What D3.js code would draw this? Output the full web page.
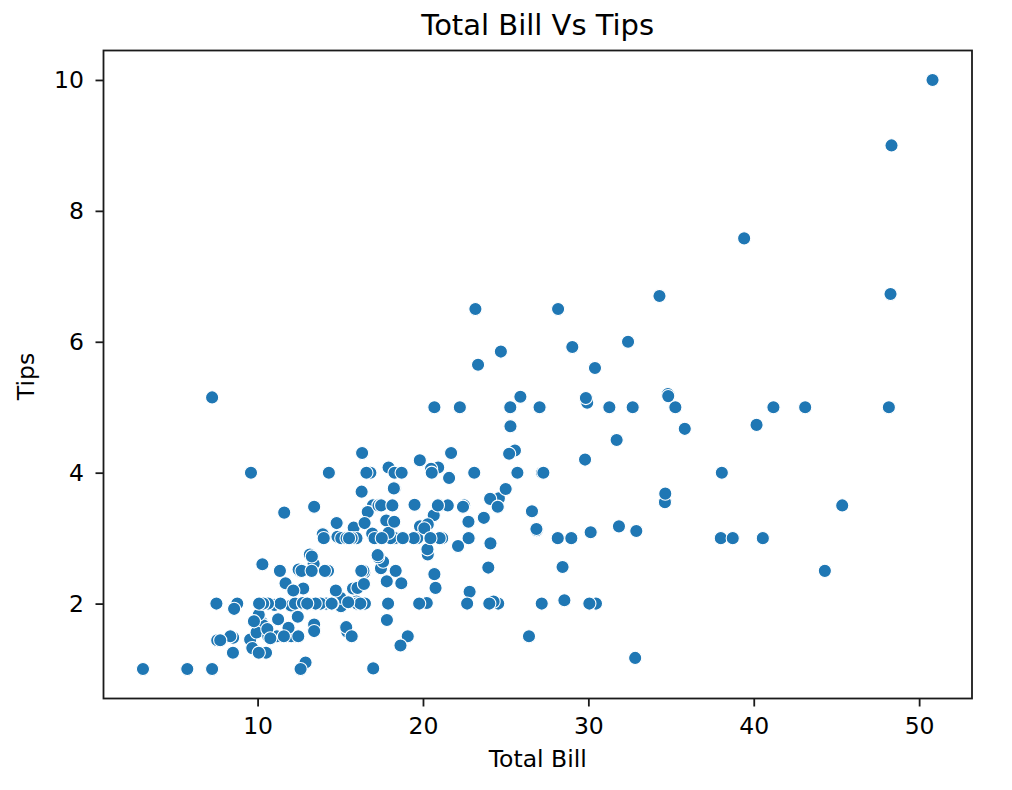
<!DOCTYPE html>
<html>
<head>
<meta charset="utf-8">
<script src="https://cdn.jsdelivr.net/npm/d3@7"></script>
<style>
  html, body { margin: 0; padding: 0; background: #fff; }
  svg { display: block; }
  text { font-family: "DejaVu Sans", sans-serif; fill: #000; }
</style>
</head>
<body>
<svg id="chart" width="1012" height="790"></svg>
<script>
// Data: total bill and tip (seaborn "tips" dataset)
const totalBill = [16.99,10.34,21.01,23.68,24.59,25.29,8.77,26.88,15.04,14.78,10.27,35.26,15.42,18.43,14.83,21.58,10.33,16.29,16.97,20.65,17.92,20.29,15.77,39.42,19.82,17.81,13.37,12.69,21.7,19.65,9.55,18.35,15.06,20.69,17.78,24.06,16.31,16.93,18.69,31.27,16.04,17.46,13.94,9.68,30.4,18.29,22.23,32.4,28.55,18.04,12.54,10.29,34.81,9.94,25.56,19.49,38.01,26.41,11.24,48.27,20.29,13.81,11.02,18.29,17.59,20.08,16.45,3.07,20.23,15.01,12.02,17.07,26.86,25.28,14.73,10.51,17.92,27.2,22.76,17.29,19.44,16.66,10.07,32.68,15.98,34.83,13.03,18.28,24.71,21.16,28.97,22.49,5.75,16.32,22.75,40.17,27.28,12.03,21.01,12.46,11.35,15.38,44.3,22.42,20.92,15.36,20.49,25.21,18.24,14.31,14.0,7.25,38.07,23.95,25.71,17.31,29.93,10.65,12.43,24.08,11.69,13.42,14.26,15.95,12.48,29.8,8.52,14.52,11.38,22.82,19.08,20.27,11.17,12.26,18.26,8.51,10.33,14.15,16.0,13.16,17.47,34.3,41.19,27.05,16.43,8.35,18.64,11.87,9.78,7.51,14.07,13.13,17.26,24.55,19.77,29.85,48.17,25.0,13.39,16.49,21.5,12.66,16.21,13.81,17.51,24.52,20.76,31.71,10.59,10.63,50.81,15.81,7.25,31.85,16.82,32.9,17.89,14.48,9.6,34.63,34.65,23.33,45.35,23.17,40.55,20.69,20.9,30.46,18.15,23.1,15.69,19.81,28.44,15.48,16.58,7.56,10.34,43.11,13.0,13.51,18.71,12.74,13.0,16.4,20.53,16.47,26.59,38.73,24.27,12.76,30.06,25.89,48.33,13.27,28.17,12.9,28.15,11.59,7.74,30.14,12.16,13.42,8.58,15.98,13.42,16.27,10.09,20.45,13.28,22.12,24.01,15.69,11.61,10.77,15.53,10.07,12.6,32.83,35.83,29.03,27.18,22.67,17.82,18.78];
const tips = [1.01,1.66,3.5,3.31,3.61,4.71,2.0,3.12,1.96,3.23,1.71,5.0,1.57,3.0,3.02,3.92,1.67,3.71,3.5,3.35,4.08,2.75,2.23,7.58,3.18,2.34,2.0,2.0,4.3,3.0,1.45,2.5,3.0,2.45,3.27,3.6,2.0,3.07,2.31,5.0,2.24,2.54,3.06,1.32,5.6,3.0,5.0,6.0,2.05,3.0,2.5,2.6,5.2,1.56,4.34,3.51,3.0,1.5,1.76,6.73,3.21,2.0,1.98,3.76,2.64,3.15,2.47,1.0,2.01,2.09,1.97,3.0,3.14,5.0,2.2,1.25,3.08,4.0,3.0,2.71,3.0,3.4,1.83,5.0,2.03,5.17,2.0,4.0,5.85,3.0,3.0,3.5,1.0,4.3,3.25,4.73,4.0,1.5,3.0,1.5,2.5,3.0,2.5,3.48,4.08,1.64,4.06,4.29,3.76,4.0,3.0,1.0,4.0,2.55,4.0,3.5,5.07,1.5,1.8,2.92,2.31,1.68,2.5,2.0,2.52,4.2,1.48,2.0,2.0,2.18,1.5,2.83,1.5,2.0,3.25,1.25,2.0,2.0,2.0,2.75,3.5,6.7,5.0,5.0,2.3,1.5,1.36,1.63,1.73,2.0,2.5,2.0,2.74,2.0,2.0,5.14,5.0,3.75,2.61,2.0,3.5,2.5,2.0,2.0,3.0,3.48,2.24,4.5,1.61,2.0,10.0,3.16,5.15,3.18,4.0,3.11,2.0,2.0,4.0,3.55,3.68,5.65,3.5,6.5,3.0,5.0,3.5,2.0,3.5,4.0,1.5,4.19,2.56,2.02,4.0,1.44,2.0,5.0,2.0,2.0,4.0,2.01,2.0,2.5,4.0,3.23,3.41,3.0,2.03,2.23,2.0,5.16,9.0,2.5,6.5,1.1,3.0,1.5,1.44,3.09,2.2,3.48,1.92,3.0,1.58,2.5,2.0,3.0,2.72,2.88,2.0,3.0,3.39,1.47,3.0,1.25,1.0,1.17,4.67,5.92,2.0,2.0,1.75,3.0];
const xTicks = [10, 20, 30, 40, 50];
const yTicks = [2, 4, 6, 8, 10];
const titleText = "Total Bill Vs Tips";
const xLabel = "Total Bill";
const yLabel = "Tips";

const svg = d3.select("#chart");
const m = { left: 103.5, top: 50.5, right: 972, bottom: 698.5 };

// matplotlib-style 5% margins
const xExt = d3.extent(totalBill), yExt = d3.extent(tips);
const xPad = (xExt[1] - xExt[0]) * 0.05, yPad = (yExt[1] - yExt[0]) * 0.05;
const x = d3.scaleLinear().domain([xExt[0] - xPad, xExt[1] + xPad]).range([m.left, m.right]);
const y = d3.scaleLinear().domain([yExt[0] - yPad, yExt[1] + yPad]).range([m.bottom, m.top]);

const fs = 23.5;
const axisColor = "#1a1a1a";

// points
const data = totalBill.map((d, i) => ({ x: d, y: tips[i] }));
svg.append("g").selectAll("circle").data(data).join("circle")
  .attr("cx", d => x(d.x)).attr("cy", d => y(d.y)).attr("r", 6.6)
  .attr("fill", "#1f77b4").attr("stroke", "#ffffff").attr("stroke-width", 1.1);

// x axis
const xAxis = svg.append("g").attr("transform", `translate(0,${m.bottom})`)
  .call(d3.axisBottom(x).tickValues(xTicks).tickSize(8).tickPadding(10.5).tickFormat(d3.format("d")));
xAxis.select(".domain").remove();
xAxis.selectAll(".tick line").attr("stroke", axisColor).attr("stroke-width", 1.8);
xAxis.selectAll(".tick text").attr("font-size", fs).attr("font-family", "DejaVu Sans").attr("fill", axisColor);

// y axis
const yAxis = svg.append("g").attr("transform", `translate(${m.left},0)`)
  .call(d3.axisLeft(y).tickValues(yTicks).tickSize(8).tickPadding(11.5).tickFormat(d3.format("d")));
yAxis.select(".domain").remove();
yAxis.selectAll(".tick line").attr("stroke", axisColor).attr("stroke-width", 1.8);
yAxis.selectAll(".tick text").attr("font-size", fs).attr("font-family", "DejaVu Sans").attr("fill", axisColor);

// frame
svg.append("rect").attr("x", m.left).attr("y", m.top)
  .attr("width", m.right - m.left).attr("height", m.bottom - m.top)
  .attr("fill", "none").attr("stroke", axisColor).attr("stroke-width", 1.8);

// title and labels
svg.append("text").attr("x", (m.left + m.right) / 2).attr("y", 35)
  .attr("text-anchor", "middle").attr("font-size", 29).attr("fill", axisColor).text(titleText);
svg.append("text").attr("x", (m.left + m.right) / 2).attr("y", 767)
  .attr("text-anchor", "middle").attr("font-size", fs).attr("fill", axisColor).text(xLabel);
svg.append("text").attr("transform", `translate(34,${(m.top + m.bottom) / 2 + 2}) rotate(-90)`)
  .attr("text-anchor", "middle").attr("font-size", fs).attr("fill", axisColor).text(yLabel);
</script>
</body>
</html>
